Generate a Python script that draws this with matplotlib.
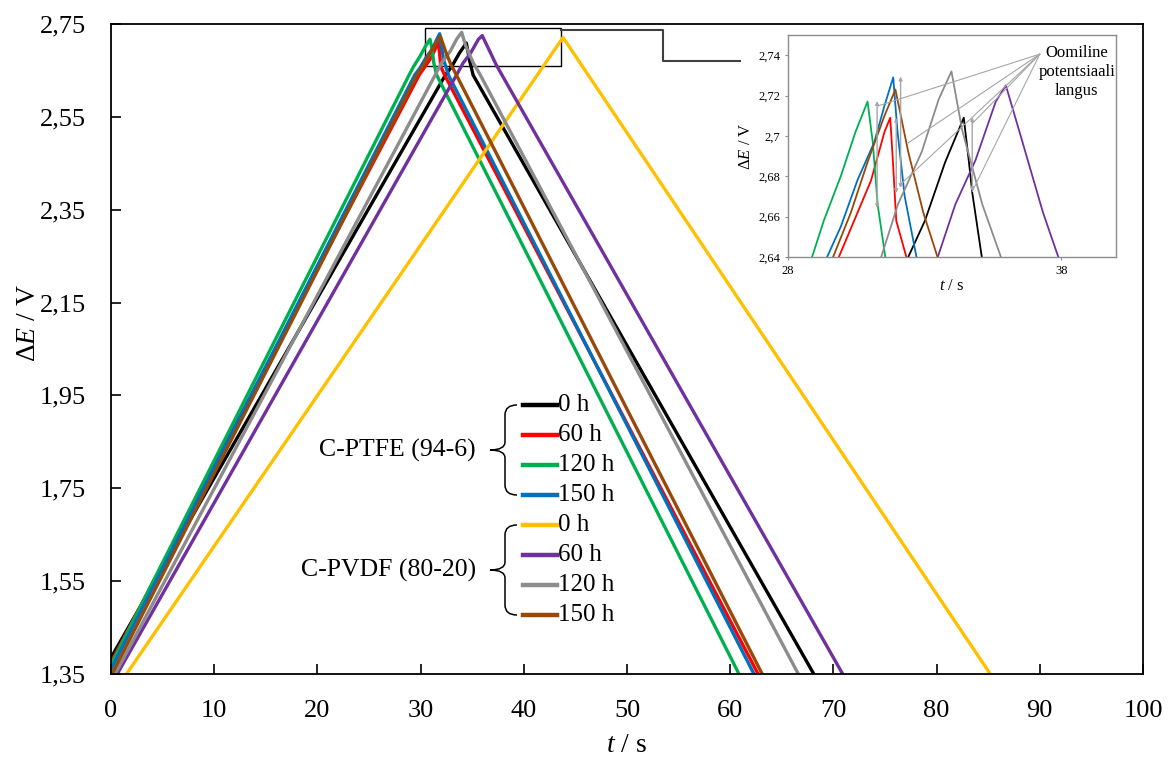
import matplotlib
matplotlib.use("Agg")
import matplotlib.pyplot as plt
from matplotlib.lines import Line2D
from matplotlib.patches import Rectangle, PathPatch
from matplotlib.path import Path
from matplotlib.ticker import MultipleLocator, FixedLocator, FuncFormatter

plt.rcParams["font.family"] = ["Liberation Serif", "DejaVu Serif"]
plt.rcParams["mathtext.fontset"] = "custom"
plt.rcParams["mathtext.rm"] = "Liberation Serif"
plt.rcParams["mathtext.it"] = "Liberation Serif:italic"

# galvanostatic charge/discharge curves, keypoints
# C-PTFE (94-6)
t_ptfe_0 = [0.0, 32.40, 33.01, 33.75, 34.43, 34.62, 34.74, 35.09, 68.1]
E_ptfe_0 = [1.385, 2.640, 2.658, 2.687, 2.709, 2.687, 2.672, 2.640, 1.35]
t_ptfe_60 = [0.0, 29.86, 30.42, 31.04, 31.53, 31.74, 31.84, 31.96, 32.33, 62.7]
E_ptfe_60 = [1.375, 2.640, 2.658, 2.678, 2.702, 2.709, 2.687, 2.658, 2.640, 1.35]
t_ptfe_120 = [0.0, 28.88, 29.31, 29.93, 30.47, 30.91, 31.10, 31.28, 31.56, 60.85]
E_ptfe_120 = [1.37, 2.640, 2.658, 2.680, 2.702, 2.717, 2.697, 2.666, 2.640, 1.35]
t_ptfe_150 = [0.0, 29.43, 29.93, 30.54, 31.16, 31.53, 31.85, 32.00, 32.27, 32.70, 62.3]
E_ptfe_150 = [1.36, 2.640, 2.655, 2.678, 2.697, 2.715, 2.729, 2.703, 2.670, 2.640, 1.35]
# C-PVDF (80-20)
t_pvdf_0 = [1.5, 43.8, 85.2]
E_pvdf_0 = [1.35, 2.721, 1.35]
t_pvdf_60 = [0.6, 33.48, 34.12, 34.86, 35.60, 35.97, 36.47, 37.33, 37.89, 70.9]
E_pvdf_60 = [1.35, 2.640, 2.666, 2.688, 2.717, 2.725, 2.702, 2.662, 2.640, 1.35]
t_pvdf_120 = [0.4, 31.41, 32.02, 32.89, 33.51, 33.98, 34.37, 35.11, 35.79, 66.6]
E_pvdf_120 = [1.35, 2.640, 2.666, 2.692, 2.718, 2.732, 2.703, 2.666, 2.640, 1.35]
t_pvdf_150 = [0.1, 29.65, 30.30, 30.91, 31.53, 31.93, 32.40, 32.95, 33.47, 63.1]
E_pvdf_150 = [1.35, 2.640, 2.662, 2.687, 2.710, 2.723, 2.692, 2.662, 2.640, 1.35]

hours = ["0 h", "60 h", "120 h", "150 h"]
groups = ["C-PTFE (94-6)", "C-PVDF (80-20)"]

# ohmic drop arrows in the inset: t, top, bottom
drop_t = [31.26, 32.12, 31.96, 34.74]
drop_top = [2.7173, 2.7294, 2.709, 2.7093]
drop_bot = [2.6642, 2.6742, 2.6717, 2.6726]
# pointer lines from the annotation text
ptr_t = [31.3, 32.4, 32.1, 34.74, 34.74]
ptr_E = [2.7149, 2.6966, 2.6758, 2.7061, 2.6725]

curves = [
    (t_ptfe_0, E_ptfe_0, "black"),
    (t_ptfe_60, E_ptfe_60, "#ff0000"),
    (t_ptfe_120, E_ptfe_120, "#00b050"),
    (t_ptfe_150, E_ptfe_150, "#0070c0"),
    (t_pvdf_0, E_pvdf_0, "#ffc000"),
    (t_pvdf_60, E_pvdf_60, "#7030a0"),
    (t_pvdf_120, E_pvdf_120, "#8c8c8c"),
    (t_pvdf_150, E_pvdf_150, "#984807"),
]

W, H = 1173, 757
fig = plt.figure(figsize=(W / 100, H / 100), dpi=100)


def fx(px):
    return px / W


def fy(py):
    return 1 - py / H


ax = fig.add_axes([fx(111), fy(674), fx(1143) - fx(111), fy(24) - fy(674)])
for t, e, c in curves:
    ax.plot(t, e, color=c, lw=2.4, solid_joinstyle="round")

ax.set_xlim(0, 100)
ax.set_ylim(1.35, 2.75)
ax.xaxis.set_major_locator(MultipleLocator(10))
ax.set_yticks([1.35, 1.55, 1.75, 1.95, 2.15, 2.35, 2.55, 2.75])
ax.yaxis.set_major_formatter(FuncFormatter(lambda v, p: f"{v:.2f}".replace(".", ",")))
ax.tick_params(direction="in", length=7, width=1.2, labelsize=19)
ax.tick_params(axis="x", pad=19)
ax.tick_params(axis="y", pad=18)
for s in ax.spines.values():
    s.set_linewidth(1.3)
ax.set_xlabel("$t$ / s", fontsize=20, labelpad=8)
ax.set_ylabel("Δ$E$ / V", fontsize=20)
ax.yaxis.set_label_coords(-0.068, 0.54)

# zoom window
ax.add_patch(Rectangle((30.4, 2.66), 13.2, 0.081, fill=False, ec="black", lw=1.0))
fig.add_artist(Line2D([fx(561), fx(663), fx(663), fx(740)],
                      [fy(29.5), fy(29.5), fy(60.7), fy(60.7)],
                      color="#404040", lw=1.5))

# legend drawn by hand with braces
for g in range(2):
    y0 = 405 + 120 * g
    for i in range(4):
        y = y0 + 30 * i
        c = curves[4 * g + i][2]
        fig.add_artist(Line2D([fx(523), fx(557)], [fy(y), fy(y)], color=c, lw=3.2))
        fig.text(fx(558), fy(y), hours[i], ha="left", va="center", fontsize=18)
    top, bot = y0, y0 + 90
    mid = (top + bot) / 2
    pts = [(517, top), (505, top), (505, top + 10), (505, mid - 8),
           (505, mid), (490, mid), (505, mid), (505, mid + 8),
           (505, bot - 10), (505, bot), (517, bot)]
    codes = [Path.MOVETO, Path.CURVE3, Path.CURVE3, Path.LINETO,
             Path.CURVE3, Path.CURVE3, Path.CURVE3, Path.CURVE3,
             Path.LINETO, Path.CURVE3, Path.CURVE3]
    path = Path([(fx(px), fy(py)) for px, py in pts], codes)
    fig.add_artist(PathPatch(path, fill=False, ec="black", lw=1.1,
                             transform=fig.transFigure))
    fig.text(fx(476), fy(mid), groups[g], ha="right", va="center", fontsize=18.5)

# inset
iax = fig.add_axes([fx(788), fy(257), fx(1116) - fx(788), fy(35) - fy(257)])
for t, e, c in curves:
    iax.plot(t, e, color=c, lw=1.3)
iax.set_xlim(28, 40)
iax.set_ylim(2.64, 2.75)
iax.xaxis.set_major_locator(FixedLocator([28, 38]))
iax.set_yticks([2.64, 2.66, 2.68, 2.70, 2.72, 2.74])
iax.yaxis.set_major_formatter(FuncFormatter(lambda v, p: f"{round(v, 2):g}".replace(".", ",")))
iax.tick_params(length=2.5, width=0.8, labelsize=9, color="#8c8c8c", pad=3)
for s in iax.spines.values():
    s.set_color("#8c8c8c")
    s.set_linewidth(1.0)
iax.set_xlabel("$t$ / s", fontsize=12, labelpad=1)
iax.set_ylabel("Δ$E$ / V", fontsize=12, labelpad=3)

for t, a, b in zip(drop_t, drop_top, drop_bot):
    iax.annotate("", xy=(t, a), xytext=(t, b),
                 arrowprops=dict(arrowstyle="<|-|>", color="#a6a6a6", lw=1.0,
                                 mutation_scale=5, shrinkA=0, shrinkB=0))
for t, e in zip(ptr_t, ptr_E):
    iax.plot([37.21, t], [2.7405, e], color="#a6a6a6", lw=0.8)
iax.text(38.56, 2.7315, "Oomiline\npotentsiaali\nlangus", ha="center", va="center",
         fontsize=12, linespacing=1.25)

fig.savefig("out.png", dpi=100)
